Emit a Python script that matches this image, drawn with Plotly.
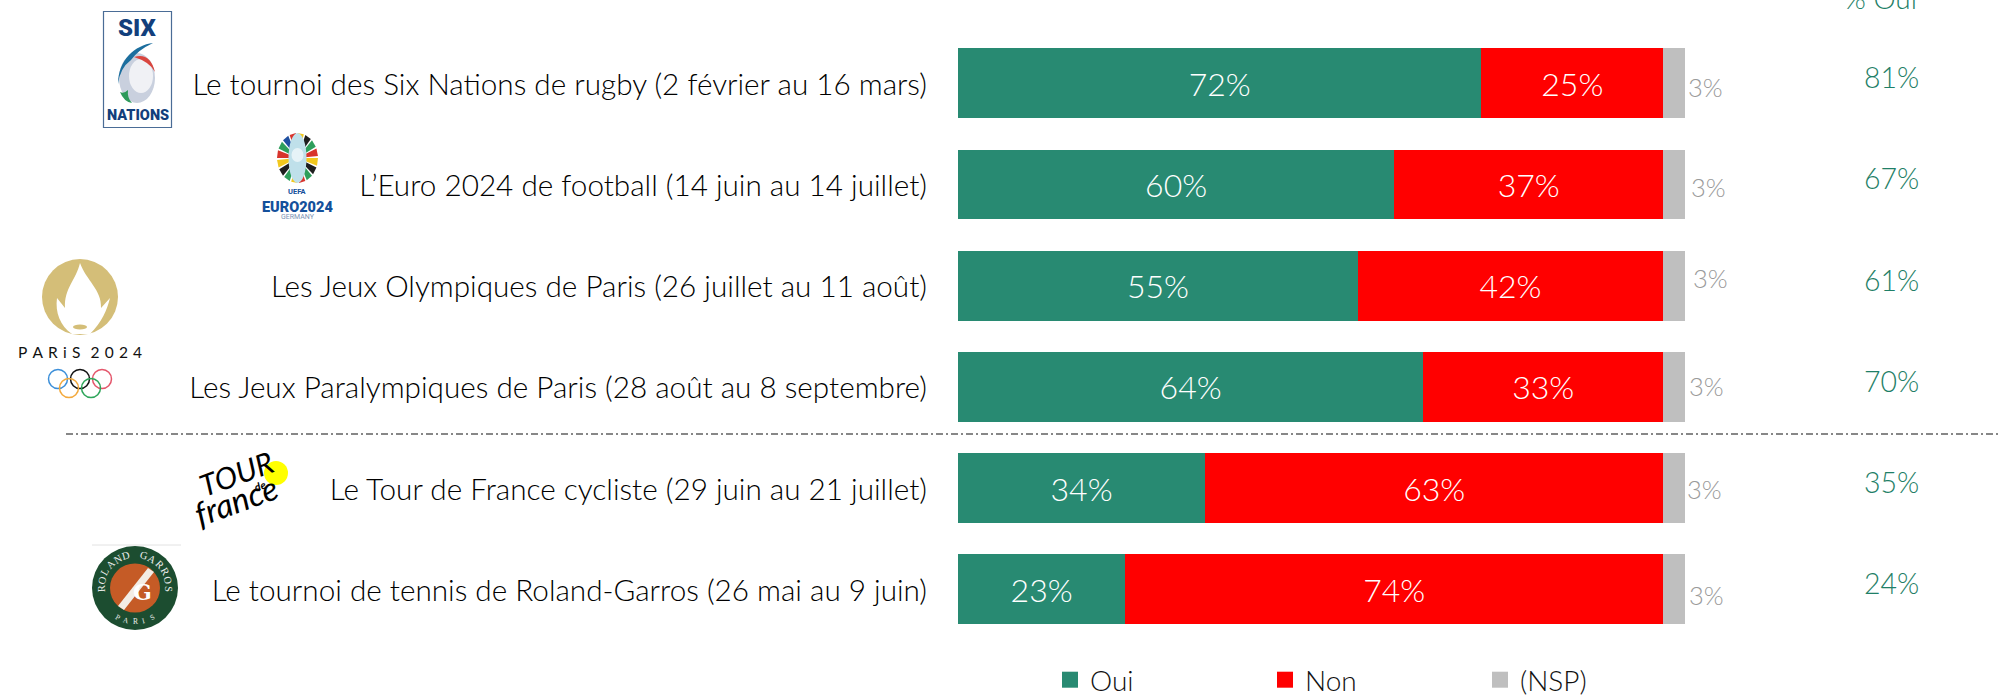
import math
import plotly.graph_objects as go

W, H = 2000, 697
events = [
    "Le tournoi des Six Nations de rugby (2 février au 16 mars)",
    "L’Euro 2024 de football (14 juin au 14 juillet)",
    "Les Jeux Olympiques de Paris (26 juillet au 11 août)",
    "Les Jeux Paralympiques de Paris (28 août au 8 septembre)",
    "Le Tour de France cycliste (29 juin au 21 juillet)",
    "Le tournoi de tennis de Roland-Garros (26 mai au 9 juin)",
]
oui = [72, 60, 55, 64, 34, 23]
non = [25, 37, 42, 33, 63, 74]
nsp = [3, 3, 3, 3, 3, 3]
pct_oui = [81, 67, 61, 70, 35, 24]

GREEN, RED, GREY = "#288A72", "#FF0000", "#BFBFBF"
FONT = "Lato"
X0, X1 = 958, 1685
Y0, Y1 = 32.6, 640


def px(x):
    return x / W


def py(y):
    return 1 - y / H


fig = go.Figure()
for name, vals, col in [("Oui", oui, GREEN), ("Non", non, RED), ("(NSP)", nsp, GREY)]:
    fig.add_bar(
        y=events, x=vals, orientation="h", name=name, marker_color=col, marker_line_width=0,
        showlegend=False,
        text=[f"{v}%" for v in vals] if name != "(NSP)" else None,
        textposition="inside" if name != "(NSP)" else "none",
        insidetextanchor="middle", textangle=0,
        insidetextfont=dict(family=FONT, size=32, color="white", weight=300),
        hoverinfo="x+y+name",
    )
    fig.add_scatter(
        x=[None], y=[None], mode="markers", name=name, showlegend=True,
        marker=dict(symbol="square", size=18, color=col),
    )

annotations = []
offset_x = [20, 23.5, 25, 21, 19.5, 21]
offset_y = [4, 2.5, -8, -1, 0.5, 5.5]
for i, ev in enumerate(events):
    annotations.append(dict(
        x=100, y=ev, xref="x", yref="y", text=f"{nsp[i]}%", showarrow=False,
        xanchor="center", yanchor="middle",
        xshift=offset_x[i], yshift=-offset_y[i],
        font=dict(family=FONT, size=25.5, color="#9A9A9A", weight=300),
    ))
    annotations.append(dict(
        x=px(1891), y=ev, xref="paper", yref="y", text=f"{pct_oui[i]}%", showarrow=False,
        xanchor="center", yanchor="middle",
        yshift=6, font=dict(family=FONT, size=28.5, color="#1F7F67", weight=300),
    ))
annotations.append(dict(
    x=px(1880), y=py(-2), xref="paper", yref="paper", text="% Oui", showarrow=False,
    xanchor="center", yanchor="middle",
    font=dict(family=FONT, size=28, color="#1F7F67", weight=300),
))

shapes = [dict(
    type="line", xref="paper", yref="paper", x0=px(66), x1=px(1998), y0=py(434), y1=py(434),
    line=dict(color="#111111", width=1.2, dash="7px,3px,2px,3px"),
)]


def ell(cx, cy, rx, ry, fill="rgba(0,0,0,0)", line=None, lw=0):
    shapes.append(dict(
        type="circle", xref="paper", yref="paper",
        x0=px(cx - rx), x1=px(cx + rx), y0=py(cy - ry), y1=py(cy + ry),
        fillcolor=fill, line=dict(color=line or fill, width=lw),
    ))


def rect(x0, y0, x1, y1, fill="rgba(0,0,0,0)", line=None, lw=0):
    shapes.append(dict(
        type="rect", xref="paper", yref="paper", x0=px(x0), x1=px(x1), y0=py(y0), y1=py(y1),
        fillcolor=fill, line=dict(color=line or fill, width=lw),
    ))


def path(cmds, fill):
    """cmds: list of ('M'|'L'|'Q'|'C', x, y, ...) in page pixels."""
    parts = []
    for c in cmds:
        pts = c[1:]
        coords = " ".join(f"{px(pts[i]):.5f},{py(pts[i + 1]):.5f}" for i in range(0, len(pts), 2))
        parts.append(f"{c[0]} {coords}")
    shapes.append(dict(
        type="path", xref="paper", yref="paper", path=" ".join(parts) + " Z",
        fillcolor=fill, line=dict(color=fill, width=0),
    ))


def txt(x, y, s, size, color="#000", family="Roboto", weight=400, angle=0, italic=False):
    annotations.append(dict(
        x=px(x), y=py(y), xref="paper", yref="paper", text=s, showarrow=False, textangle=angle,
        xanchor="center", yanchor="middle",
        font=dict(family=family, size=size, color=color, weight=weight,
                  style="italic" if italic else "normal"),
    ))


# Six Nations mark
rect(103.5, 11.5, 171.5, 127.5, fill="white", line="#4A6C96", lw=1.2)
txt(137, 28, "SIX", 24, "#123F7C", weight=900)
ell(137, 78, 18, 25, fill="#C9D0DE")
ell(141, 76, 12, 17, fill="#F0F1F5")
path([("M", 153, 43), ("C", 135, 45, 118, 60, 118, 84), ("Q", 120, 68, 131, 60), ("Q", 138, 50, 153, 43)], "#1C6E9E")
path([("M", 134, 57), ("Q", 150, 52, 155, 72), ("Q", 150, 62, 134, 57)], "#D9463F")
path([("M", 120, 92), ("Q", 124, 102, 132, 103), ("Q", 127, 98, 128, 90), ("Q", 124, 94, 120, 92)], "#2E9A5A")
txt(137.5, 116, "NATIONS", 14.5, "#123F7C", weight=900)

# Euro 2024 mark
stripe_colors = ["#F2C81E", "#1E1E1E", "#2E9E5B", "#D8342C", "#F2C81E", "#2E9E5B", "#1E1E1E",
                 "#F2C81E", "#D8342C", "#2E9E5B", "#1F4FA0", "#D8342C", "#F2C81E", "#1E1E1E", "#2E9E5B", "#D8342C"]
n = len(stripe_colors)
for k, c in enumerate(stripe_colors):
    a0, a1 = 2 * math.pi * k / n, 2 * math.pi * (k + 0.8) / n
    path([("M", 297.5, 158),
          ("L", 297.5 + 20.5 * math.cos(a0), 158 + 25 * math.sin(a0)),
          ("L", 297.5 + 20.5 * math.cos(a1), 158 + 25 * math.sin(a1))], c)
ell(297.5, 158, 9, 25, fill="#BFE0EA")
ell(297.5, 155, 6, 7, fill="#E6F3F7")
txt(297.5, 192, "UEFA", 7.5, "#14509B", weight=700)
txt(297.5, 207, "EURO2024", 14.5, "#14509B", weight=900)
txt(297.5, 217, "GERMANY", 7, "#7C93B4")

# Paris 2024 mark
ell(80, 297, 38, 38, fill="#D4BE78")
path([("M", 80, 263),
      ("C", 76, 280, 64, 288, 65, 308),
      ("L", 57, 298),
      ("C", 55, 312, 60, 326, 72, 334),
      ("L", 90, 334),
      ("C", 102, 322, 107, 310, 110, 298),
      ("L", 101, 308),
      ("C", 102, 290, 86, 280, 80, 263)], "white")
ell(80, 327, 7, 2.5, fill="#D4BE78")
txt(80, 352, "P\u2004A\u2004R\u2004i\u2004S\u2004\u20042\u20040\u20042\u20044", 15.5, "#111111", family="Lato")
for cx, cy, c in [(58, 379, "#3C8FD9"), (80, 379, "#111111"), (102, 379, "#E4566B"),
                  (69, 388, "#F3A93C"), (91, 388, "#2EA55A")]:
    ell(cx, cy, 9.5, 9.5, line=c, lw=1.5)

# Tour de France mark
ell(276, 473, 12, 12, fill="#FFFF00")
txt(236, 473, "TOUR", 30, "#000", family="Lato", weight=400, angle=-20, italic=True)
txt(260, 485, "de", 11, "#000", family="Lato", weight=700, angle=-20, italic=True)
txt(236, 500, "france", 33, "#000", family="Lato", weight=400, angle=-20, italic=True)

# Roland-Garros mark
shapes.append(dict(type="line", xref="paper", yref="paper", x0=px(92), x1=px(181), y0=py(545), y1=py(545),
                   line=dict(color="#E2E2E2", width=1)))
ell(135, 588, 43, 42, fill="#1C4D30")
ell(135, 588, 25, 24.5, fill="#C55B26")
path([("M", 118, 606), ("L", 148, 568), ("L", 154, 572), ("L", 124, 610)], "#F3EDE5")
txt(142, 592, "G", 22, "white", family="DejaVu Serif", weight=700)
word = "ROLAND GARROS"
for k, ch in enumerate(word):
    a = -92 + 184 * k / (len(word) - 1)
    if ch != " ":
        txt(135 + 34 * math.sin(math.radians(a)), 588 - 33.5 * math.cos(math.radians(a)), ch, 10.5,
            "#EDEDED", family="Liberation Serif", angle=a)
for k, ch in enumerate("PARIS"):
    a = -30 + 15 * k
    txt(135 + 34 * math.sin(math.radians(a)), 588 + 33.5 * math.cos(math.radians(a)), ch, 7.5,
        "#EDEDED", family="Liberation Serif", angle=-a)

fig.update_layout(
    width=W, height=H, barmode="stack", bargap=0.31, plot_bgcolor="white", paper_bgcolor="white",
    margin=dict(l=0, r=0, t=0, b=0, autoexpand=False), autosize=False,
    font=dict(family=FONT, size=29.7, color="#000000", weight=300),
    xaxis=dict(domain=[px(X0), px(X1)], range=[0, 100], visible=False, fixedrange=True),
    yaxis=dict(
        domain=[py(Y1), py(Y0)], categoryorder="array", categoryarray=events[::-1],
        autorange=False, range=[-0.5, 5.5], showline=False, ticks="", showgrid=False, zeroline=False,
        tickfont=dict(family=FONT, size=29.7, color="#000000", weight=300), ticklabelstandoff=30,
        ticklabelshift=1, anchor="x", automargin=False,
    ),
    showlegend=True,
    legend=dict(
        orientation="h", x=px(1050), xanchor="left", y=py(680), yanchor="middle", traceorder="normal",
        entrywidth=170, entrywidthmode="pixels", itemwidth=30, bgcolor="rgba(0,0,0,0)", itemclick=False,
        font=dict(family=FONT, size=28, color="#111111", weight=300),
    ),
    annotations=annotations, shapes=shapes,
)
fig.write_html("out.html", config=dict(displayModeBar=False), post_script="document.body.style.margin='0';")
